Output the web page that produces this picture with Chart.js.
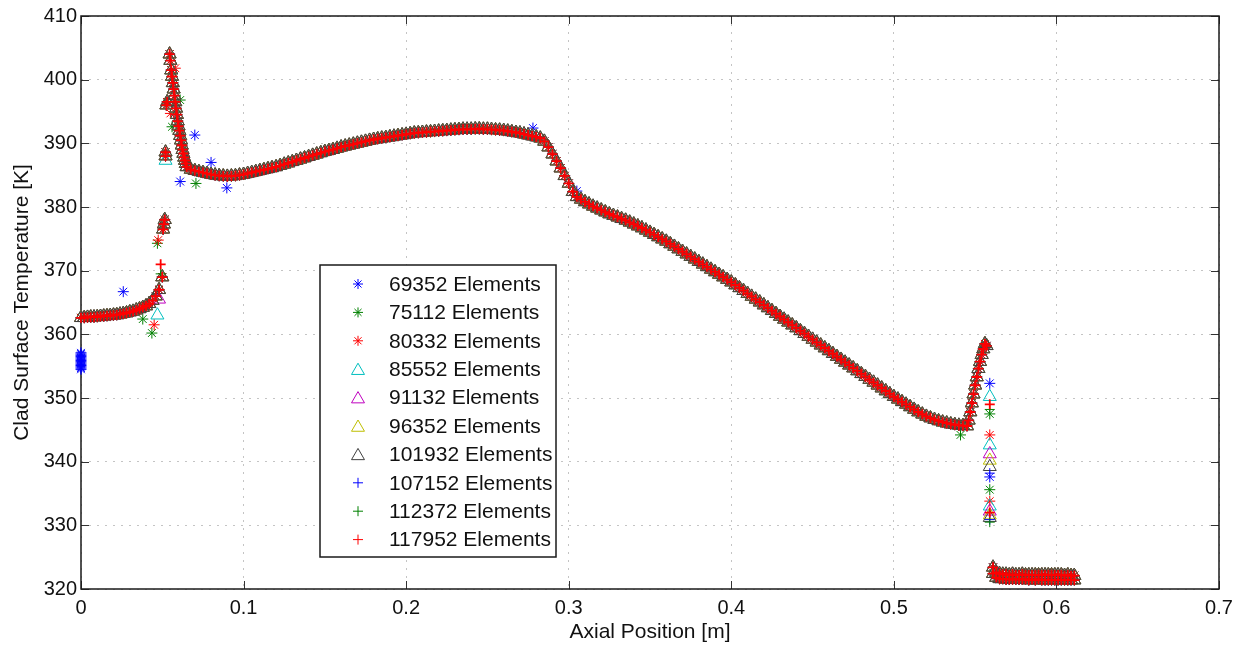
<!DOCTYPE html>
<html><head><meta charset="utf-8">
<script src="https://cdn.jsdelivr.net/npm/chart.js@4/dist/chart.umd.min.js"></script>
<style>html,body{margin:0;padding:0;background:#fff;overflow:hidden}canvas{display:block}</style>
</head><body>
<canvas id="c" width="1244" height="647" style="width:1244px;height:647px"></canvas>
<script>
// ---------- DATA ----------
const seriesNames = ['69352 Elements','75112 Elements','80332 Elements','85552 Elements','91132 Elements','96352 Elements','101932 Elements','107152 Elements','112372 Elements','117952 Elements'];
const xTicks = [0,0.1,0.2,0.3,0.4,0.5,0.6,0.7];
const xTickLabels = ['0','0.1','0.2','0.3','0.4','0.5','0.6','0.7'];
const yTicks = [320,330,340,350,360,370,380,390,400,410];
const yTickLabels = ['320','330','340','350','360','370','380','390','400','410'];

// shared curve (all meshes nearly coincide)
const leftX = [0,0.002,0.004,0.006,0.008,0.010,0.012,0.014,0.016,0.018,0.020,0.022,0.024,0.026,0.028,0.030,0.032,0.034,0.036,0.038,0.040,0.042,0.044,0.046,0.048];
const leftY = [362.6,362.6,362.65,362.7,362.7,362.75,362.8,362.85,362.9,362.95,363.0,363.05,363.15,363.25,363.35,363.5,363.6,363.8,364.0,364.2,364.45,364.8,365.3,366.0,367.0];
const peakX = [0.0500,0.0505,0.0510,0.0515,0.0520,0.0520,0.0525,0.0530,0.0545,0.0550,0.0555,0.0560,0.0565,0.0570,0.0575,0.0580,0.0585,0.0590,0.0595,0.0600,0.0605,0.0610,0.0615,0.0620,0.0625,0.0630,0.0635,0.0640,0.0645];
const peakY = [369.0,376.5,377.3,378.0,388.0,388.6,396.0,396.5,404.0,403.0,401.5,400.5,399.5,398.5,397.5,396.5,395.5,394.5,393.5,392.7,392.0,391.2,390.5,389.7,389.0,388.4,387.8,387.3,386.8];
const midX = [0.0650,0.0675,0.0700,0.0725,0.0750,0.0775,0.0800,0.0825,0.0850,0.0875,
  0.0900,0.0925,0.0950,0.0975,0.1000,0.1025,0.1050,0.1075,0.1100,0.1125,
  0.1150,0.1175,0.1200,0.1225,0.1250,0.1275,0.1300,0.1325,0.1350,0.1375,
  0.1400,0.1425,0.1450,0.1475,0.1500,0.1525,0.1550,0.1575,0.1600,0.1625,
  0.1650,0.1675,0.1700,0.1725,0.1750,0.1775,0.1800,0.1825,0.1850,0.1875,
  0.1900,0.1925,0.1950,0.1975,0.2000,0.2025,0.2050,0.2075,0.2100,0.2125,
  0.2150,0.2175,0.2200,0.2225,0.2250,0.2275,0.2300,0.2325,0.2350,0.2375,
  0.2400,0.2425,0.2450,0.2475,0.2500,0.2525,0.2550,0.2575,0.2600,0.2625,
  0.2650,0.2675,0.2700,0.2725,0.2750,0.2775,0.2800,0.2825,0.2850,0.2875,
  0.2900,0.2925,0.2950,0.2975,0.3000,0.3025,0.3050,0.3075,0.3100,0.3125,
  0.3150,0.3175,0.3200,0.3225,0.3250,0.3275,0.3300,0.3325,0.3350,0.3375,
  0.3400,0.3425,0.3450,0.3475,0.3500,0.3525,0.3550,0.3575,0.3600,0.3625,
  0.3650,0.3675,0.3700,0.3725,0.3750,0.3775,0.3800,0.3825,0.3850,0.3875,
  0.3900,0.3925,0.3950,0.3975,0.4000,0.4025,0.4050,0.4075,0.4100,0.4125,
  0.4150,0.4175,0.4200,0.4225,0.4250,0.4275,0.4300,0.4325,0.4350,0.4375,
  0.4400,0.4425,0.4450,0.4475,0.4500,0.4525,0.4550,0.4575,0.4600,0.4625,
  0.4650,0.4675,0.4700,0.4725,0.4750,0.4775,0.4800,0.4825,0.4850,0.4875,
  0.4900,0.4925,0.4950,0.4975,0.5000,0.5025,0.5050,0.5075,0.5100,0.5125,
  0.5150,0.5175,0.5200,0.5225,0.5250,0.5275,0.5300,0.5325,0.5350,0.5375,
  0.5400,0.5425,0.5450];
const midY = [386.3,385.9,385.7,385.55,385.4,385.25,385.1,385.0,384.9,384.85,
  384.8,384.85,384.9,385.0,385.1,385.25,385.4,385.55,385.7,385.85,
  386.0,386.15,386.3,386.5,386.7,386.9,387.1,387.3,387.5,387.7,
  387.9,388.1,388.3,388.5,388.7,388.85,389.0,389.2,389.4,389.55,
  389.7,389.85,390.0,390.15,390.3,390.45,390.6,390.7,390.8,390.9,
  391.0,391.1,391.2,391.3,391.4,391.5,391.6,391.65,391.7,391.75,
  391.8,391.85,391.9,391.95,392.0,392.05,392.1,392.15,392.2,392.2,
  392.2,392.25,392.25,392.2,392.2,392.15,392.1,392.05,392.0,391.9,
  391.8,391.7,391.6,391.45,391.3,391.15,391.0,390.8,390.3,389.4,
  388.3,387.2,386.1,384.9,383.7,382.4,381.6,381.2,380.8,380.45,
  380.1,379.8,379.5,379.2,378.9,378.65,378.4,378.15,377.9,377.6,
  377.3,377.0,376.7,376.35,376.0,375.65,375.3,374.95,374.6,374.2,
  373.8,373.4,373.0,372.6,372.2,371.8,371.4,371.0,370.6,370.2,
  369.8,369.4,369.0,368.6,368.2,367.75,367.3,366.85,366.4,365.95,
  365.5,365.05,364.6,364.15,363.7,363.25,362.8,362.35,361.9,361.45,
  361.0,360.55,360.1,359.65,359.2,358.75,358.3,357.85,357.4,356.95,
  356.5,356.05,355.6,355.15,354.7,354.25,353.8,353.35,352.9,352.45,
  352.0,351.55,351.1,350.65,350.2,349.8,349.4,349.0,348.6,348.2,
  347.8,347.45,347.1,346.85,346.6,346.4,346.2,346.05,345.9,345.8,
  345.7,345.65,345.6];
const riseX = [0.5460,0.5470,0.5480,0.5490,0.5500,0.5510,0.5520,0.5530,0.5540,0.5550,0.5560,0.5570];
const riseY = [346.5,347.8,349.2,350.6,352.0,353.3,354.6,355.7,356.8,357.7,358.5,358.2];
const flatX = [0.561,0.563,0.565,0.567,0.569,0.571,0.573,0.575,0.577,0.579,0.581,0.583,0.585,0.587,0.589,0.591,0.593,0.595,0.597,0.599,0.601,0.603,0.605,0.607,0.609,0.611];
const flatUpperY = [323.4,322.6,322.4,322.3,322.3,322.2,322.3,322.2,322.2,322.3,322.2,322.2,322.2,322.2,322.2,322.2,322.2,322.2,322.2,322.2,322.2,322.2,322.1,322.2,322.1,322.1];
const flatLowerY = [322.4,321.8,321.6,321.6,321.5,321.5,321.5,321.5,321.5,321.5,321.5,321.4,321.5,321.4,321.5,321.4,321.4,321.4,321.4,321.4,321.4,321.4,321.4,321.4,321.4,321.4];

// mesh-specific scattered points [x, T]
const extra0 = [[0,354.5],[0,354.7],[0,354.9],[0,355.1],[0,355.3],[0,355.5],[0,355.7],[0,355.9],[0,356.1],[0,356.3],[0,356.5],[0,356.7],[0,356.9],[0,357.1],[0.026,366.7],[0.061,384.0],[0.070,391.3],[0.080,387.0],[0.0897,383.0],[0.278,392.4],[0.305,382.5],[0.559,352.3],[0.559,337.6]];
const extra1 = [[0.038,362.4],[0.0436,360.2],[0.047,374.3],[0.056,392.6],[0.061,396.8],[0.0707,383.7],[0.541,344.2],[0.559,347.5],[0.559,335.6]];
const extra2 = [[0.045,361.5],[0.0475,374.8],[0.055,394.7],[0.058,401.8],[0.559,344.2],[0.559,333.8]];
const extra3 = [[0.047,363.0],[0.052,387.3],[0.559,350.2],[0.559,342.6],[0.559,333.0]];
const extra4 = [[0.048,365.5],[0.559,341.2],[0.559,332.2]];
const extra5 = [[0.559,340.2],[0.559,331.6]];
const extra6 = [[0.559,339.2],[0.559,331.2]];
const extra7 = [[0.559,338.2],[0.559,330.9]];
const extra8 = [[0.049,369.5],[0.559,348.2],[0.559,330.5]];
const extra9 = [[0.049,371.0],[0.559,349.0],[0.559,332.0]];
const extras = [extra0,extra1,extra2,extra3,extra4,extra5,extra6,extra7,extra8,extra9];

// ---------- STYLE ----------
const markerStyles = ['star','star','star','triangle','triangle','triangle','triangle','cross','cross','cross'];
const markerColors = ['#0000ff','#008000','#ff0000','#00bfbf','#bf00bf','#bfbf00','#404040','#0000ff','#008000','#ff0000'];
const markerRadius = {star:5.5, triangle:7.5, cross:5};
const markerWidth = [1,1,1,1,1,1,1,1,1,1.8];
const FONT = '"Liberation Sans", Arial, Helvetica, sans-serif';

function pairs(xs, ys){ return xs.map((x,i)=>({x:x, y:ys[i]})); }
const sharedCurve = [].concat(pairs(leftX,leftY), pairs(peakX,peakY), pairs(midX,midY), pairs(riseX,riseY), pairs(flatX,flatUpperY), pairs(flatX,flatLowerY));

const N = seriesNames.length;
const datasets = seriesNames.map((name,i)=>({
  label: name,
  data: sharedCurve.concat(extras[i].map(p=>({x:p[0], y:p[1]}))),
  showLine: false,
  pointStyle: markerStyles[i],
  pointRadius: markerRadius[markerStyles[i]],
  pointHoverRadius: markerRadius[markerStyles[i]],
  pointBorderWidth: markerWidth[i],
  pointBorderColor: markerColors[i],
  pointBackgroundColor: 'rgba(0,0,0,0)',
  order: N - i,
  clip: false
}));

// axes box + inward ticks (MATLAB style)
const boxPlugin = {
  id: 'boxPlugin',
  beforeDatasetsDraw(chart){
    const {ctx, chartArea:{left,right,top,bottom}, scales:{x,y}} = chart;
    ctx.save();
    ctx.strokeStyle = '#333'; ctx.lineWidth = 1;
    ctx.beginPath();
    xTicks.forEach(v=>{ const px = Math.round(x.getPixelForValue(v))+0.5; ctx.moveTo(px,bottom); ctx.lineTo(px,bottom-8); ctx.moveTo(px,top); ctx.lineTo(px,top+8); });
    yTicks.forEach(v=>{ const py = Math.round(y.getPixelForValue(v))+0.5; ctx.moveTo(left,py); ctx.lineTo(left+8,py); ctx.moveTo(right,py); ctx.lineTo(right-8,py); });
    ctx.stroke();
    ctx.strokeStyle = '#1a1a1a'; ctx.lineWidth = 1.5;
    ctx.strokeRect(left, top, right-left, bottom-top);
    ctx.restore();
  }
};

// legend box inside the axes
const legendPlugin = {
  id: 'legendPlugin',
  afterDraw(chart){
    const ctx = chart.ctx;
    ctx.save();
    ctx.fillStyle = '#fff';
    ctx.fillRect(320, 265, 236, 292);
    ctx.strokeStyle = '#1a1a1a'; ctx.lineWidth = 1.5;
    ctx.strokeRect(320, 265, 236, 292);
    ctx.font = '21px ' + FONT;
    ctx.textBaseline = 'middle';
    ctx.textAlign = 'left';
    seriesNames.forEach((name,i)=>{
      const yy = 284 + i*28.4;
      ctx.strokeStyle = markerColors[i];
      ctx.fillStyle = 'rgba(0,0,0,0)';
      ctx.lineWidth = 1;
      Chart.helpers.drawPoint(ctx, {pointStyle: markerStyles[i], radius: markerStyles[i]==='triangle'?7.5:5, borderWidth:1, rotation:0}, 358, yy + (markerStyles[i]==='triangle'?1.5:0));
      ctx.fillStyle = '#111';
      ctx.fillText(name, 389, yy+1);
    });
    ctx.restore();
  }
};

new Chart(document.getElementById('c'), {
  type: 'scatter',
  data: { datasets },
  options: {
    responsive: false,
    animation: false,
    devicePixelRatio: 1,
    events: [],
    layout: { padding: {left:0, right:25, top:16, bottom:0} },
    plugins: { legend: {display:false}, tooltip: {enabled:false} },
    scales: {
      x: {
        type: 'linear', min: 0, max: 0.7,
        afterBuildTicks: s => { s.ticks = xTicks.map(v=>({value:v})); },
        afterFit: s => { s.height = 58; },
        ticks: { padding: 7, color: '#111', font: {family: FONT, size: 20}, maxRotation: 0,
                 callback: (v) => xTickLabels[xTicks.findIndex(t=>Math.abs(t-v)<1e-9)] },
        grid: { color: '#c4c4c4', lineWidth: 1, drawTicks: false },
        border: { display: false, dash: [2,6] },
        title: { display: true, text: 'Axial Position [m]', color: '#111', font: {family: FONT, size: 21}, padding: {top:2, bottom:2} }
      },
      y: {
        type: 'linear', min: 320, max: 410,
        afterBuildTicks: s => { s.ticks = yTicks.map(v=>({value:v})); },
        afterFit: s => { s.width = 81; },
        ticks: { padding: 4, color: '#111', font: {family: FONT, size: 20},
                 callback: (v) => yTickLabels[yTicks.indexOf(v)] },
        grid: { color: '#c4c4c4', lineWidth: 1, drawTicks: false },
        border: { display: false, dash: [2,6] },
        title: { display: true, text: 'Clad Surface Temperature [K]', color: '#111', font: {family: FONT, size: 21}, padding: {top:10, bottom:0} }
      }
    }
  },
  plugins: [boxPlugin, legendPlugin]
});
</script>
</body></html>
